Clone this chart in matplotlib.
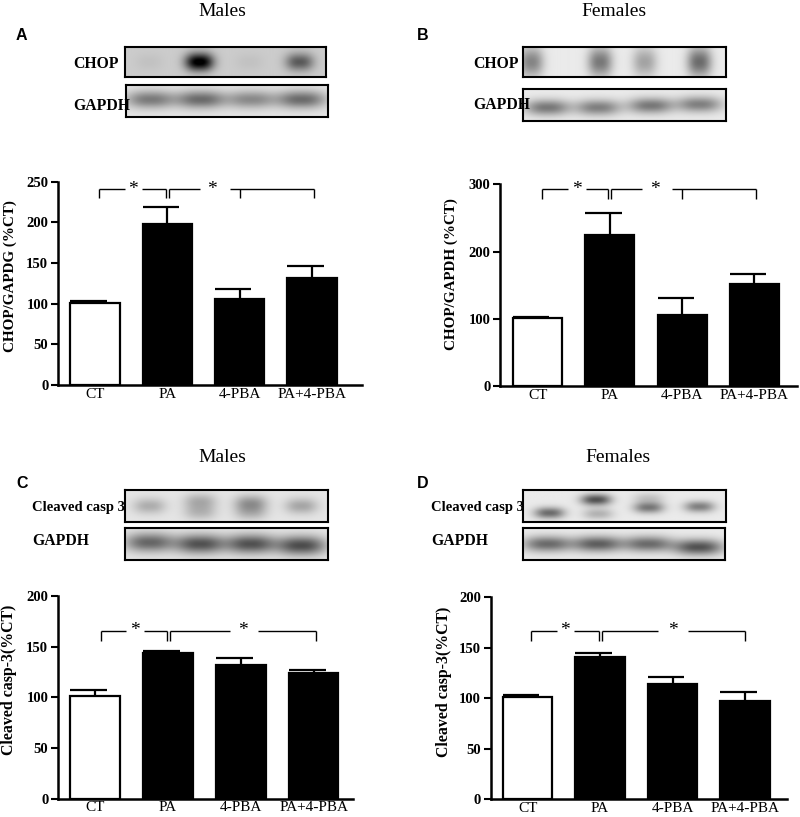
import numpy as np
import matplotlib
matplotlib.use('Agg')
import matplotlib.pyplot as plt

W, H = 800, 817
fig = plt.figure(figsize=(8, 8.17), dpi=100)

SERIF = ['Liberation Serif', 'DejaVu Serif']
SANS = ['Liberation Sans', 'DejaVu Sans']

# ---------------- data ----------------
categories = ['CT', 'PA', '4-PBA', 'PA+4-PBA']

chop_males = [101, 198.5, 105.5, 132]
chop_males_sem = [2.5, 20, 12.5, 14.5]
chop_females = [100.5, 225, 105, 152]
chop_females_sem = [2.5, 33, 26, 14]
casp_males = [101.6, 143.8, 132.2, 124.3]
casp_males_sem = [5.3, 2.3, 6.6, 2.3]
casp_females = [101.3, 140.6, 114.5, 97.7]
casp_females_sem = [1.5, 4.0, 6.3, 8.6]

yticks_chop_males = [0, 50, 100, 150, 200, 250]
yticks_chop_females = [0, 100, 200, 300]
yticks_casp = [0, 50, 100, 150, 200]

# western blot band darkness (per band: lane x, y in box, darkness)
chopA_x = [0.12, 0.37, 0.62, 0.87]; chopA_y = [0.5, 0.5, 0.5, 0.5]; chopA_d = [0.04, 0.85, 0.04, 0.45]
gapA_x = [0.12, 0.37, 0.62, 0.87]; gapA_y = [0.45, 0.45, 0.45, 0.45]; gapA_d = [0.42, 0.48, 0.36, 0.48]
chopB_x = [0.04, 0.38, 0.6, 0.87]; chopB_y = [0.5, 0.5, 0.5, 0.5]; chopB_d = [0.4, 0.45, 0.28, 0.5]
gapB_x = [0.12, 0.37, 0.63, 0.87]; gapB_y = [0.58, 0.58, 0.52, 0.48]; gapB_d = [0.45, 0.42, 0.45, 0.42]
caspC_x = [0.12, 0.37, 0.62, 0.87, 0.37, 0.62]; caspC_y = [0.5, 0.35, 0.4, 0.5, 0.7, 0.7]; caspC_d = [0.22, 0.22, 0.3, 0.25, 0.18, 0.2]
gapC_x = [0.12, 0.37, 0.62, 0.87]; gapC_y = [0.45, 0.5, 0.5, 0.55]; gapC_d = [0.5, 0.58, 0.58, 0.6]
caspD_x = [0.13, 0.36, 0.37, 0.62, 0.62, 0.87]; caspD_y = [0.72, 0.3, 0.75, 0.55, 0.25, 0.52]; caspD_d = [0.5, 0.6, 0.22, 0.45, 0.15, 0.42]
gapD_x = [0.12, 0.37, 0.62, 0.87]; gapD_y = [0.5, 0.5, 0.5, 0.6]; gapD_d = [0.5, 0.55, 0.5, 0.6]


def ax_px(l, t, r, b):
    return fig.add_axes([l / W, 1 - b / H, (r - l) / W, (b - t) / H])


def ftext(x, y, s, **kw):
    fig.text(x / W, 1 - y / H, s, **kw)


def blot(rect, bx, by, bd, sx, sy, bg):
    ax = ax_px(*rect)
    ny, nx = 60, 400
    X, Y = np.meshgrid(np.linspace(0, 1, nx), np.linspace(0, 1, ny))
    img = np.full((ny, nx), bg)
    for lx, ly, d in zip(bx, by, bd):
        img -= d * np.exp(-np.abs((X - lx) / sx) ** 2.5 - ((Y - ly) / sy) ** 2)
    ax.imshow(np.clip(img, 0, 1), cmap='gray', vmin=0, vmax=1, aspect='auto',
              extent=(0, 1, 1, 0), interpolation='bilinear')
    ax.set_xticks([]); ax.set_yticks([])
    for s in ax.spines.values():
        s.set_linewidth(1.5)
    return ax


def bar_panel(rect, vals, sem, yticks, xlim, brackets):
    ax = ax_px(*rect)
    x = np.arange(len(categories))
    w = 0.68
    colors = ['white', 'black', 'black', 'black']
    ax.bar(x, vals, width=w, color=colors, edgecolor='black', linewidth=1.6, zorder=2)
    for xi, v, e in zip(x, vals, sem):
        ax.plot([xi, xi], [v, v + e], color='black', lw=1.6, zorder=3, solid_capstyle='butt')
        ax.plot([xi - w / 2, xi + 0.24 * w], [v + e, v + e], color='black', lw=1.6, zorder=3,
                solid_capstyle='butt')
    ax.set_xlim(*xlim)
    ax.set_ylim(yticks[0], yticks[-1])
    ax.set_yticks(yticks)
    ax.set_yticklabels([str(t) for t in yticks], fontfamily=SERIF, fontweight='bold', fontsize=10.5)
    ax.set_xticks(x)
    ax.set_xticklabels(categories, fontfamily=SERIF, fontsize=11)
    ax.tick_params(axis='x', length=0, pad=2)
    ax.tick_params(axis='y', length=5, width=1.5, pad=2, direction='out')
    for s in ['top', 'right']:
        ax.spines[s].set_visible(False)
    for s in ['left', 'bottom']:
        ax.spines[s].set_linewidth(1.8)
    for (xl, xr, y, drop, sx, gl, gr, mids) in brackets:
        kw = dict(color='black', lw=1.0, clip_on=False, solid_capstyle='butt')
        ax.plot([xl, gl], [y, y], **kw)
        ax.plot([gr, xr], [y, y], **kw)
        ax.plot([xl, xl], [y, y - drop], **kw)
        ax.plot([xr, xr], [y, y - drop], **kw)
        for m in mids:
            ax.plot([m, m], [y, y - drop], **kw)
        ax.text(sx, y, '*', ha='center', va='center', fontsize=14, fontfamily=SERIF,
                transform=ax.transData)
    return ax


TITLE_FS = 14
LET_FS = 11.5
BL_FS = 11.3

# ---------------- panel A ----------------
ftext(222, 12, 'Males', ha='center', va='center', fontsize=TITLE_FS, fontfamily=SERIF)
ftext(16, 36, 'A', ha='left', va='center', fontsize=LET_FS, fontweight='bold', fontfamily=SANS)
blot((125, 47, 326, 77), chopA_x, chopA_y, chopA_d, 0.07, 0.3, 0.8)
blot((126, 85, 328, 117), gapA_x, gapA_y, gapA_d, 0.12, 0.28, 0.9)
ftext(73, 64, 'CHOP', ha='left', va='center', fontsize=BL_FS, fontweight='bold', fontfamily=SERIF)
ftext(73, 106, 'GAPDH', ha='left', va='center', fontsize=BL_FS, fontweight='bold', fontfamily=SERIF)
bar_panel((58, 181.7, 362, 385), chop_males, chop_males_sem, yticks_chop_males, (-0.51, 3.69),
          [(0.05, 0.98, 240.6, 11, 0.53, 0.41, 0.65, []),
           (1.03, 3.03, 240.6, 11, 1.62, 1.45, 1.87, [2.0])])
ftext(10, 276, 'CHOP/GAPDG (%CT)', ha='center', va='center', rotation=90, fontsize=10.9,
      fontweight='bold', fontfamily=SERIF)

# ---------------- panel B ----------------
ftext(614, 12, 'Females', ha='center', va='center', fontsize=TITLE_FS, fontfamily=SERIF)
ftext(417, 36, 'B', ha='left', va='center', fontsize=LET_FS, fontweight='bold', fontfamily=SANS)
blot((523, 47, 726, 77), chopB_x, chopB_y, chopB_d, 0.06, 0.5, 0.92)
blot((523, 89, 726, 121), gapB_x, gapB_y, gapB_d, 0.11, 0.25, 0.92)
ftext(473, 64, 'CHOP', ha='left', va='center', fontsize=BL_FS, fontweight='bold', fontfamily=SERIF)
ftext(473, 105, 'GAPDH', ha='left', va='center', fontsize=BL_FS, fontweight='bold', fontfamily=SERIF)
bar_panel((500, 184.3, 797, 386), chop_females, chop_females_sem, yticks_chop_females, (-0.52, 3.59),
          [(0.06, 0.98, 292.6, 14.6, 0.55, 0.42, 0.67, []),
           (1.02, 3.02, 292.6, 14.6, 1.63, 1.44, 1.86, [2.0])])
ftext(451, 274, 'CHOP/GAPDH (%CT)', ha='center', va='center', rotation=90, fontsize=10.9,
      fontweight='bold', fontfamily=SERIF)

# ---------------- panel C ----------------
ftext(222, 458, 'Males', ha='center', va='center', fontsize=TITLE_FS, fontfamily=SERIF)
ftext(16, 484, 'C', ha='left', va='center', fontsize=LET_FS, fontweight='bold', fontfamily=SANS)
blot((125, 490, 328, 522), caspC_x, caspC_y, caspC_d, 0.08, 0.25, 0.9)
blot((125, 528, 328, 560), gapC_x, gapC_y, gapC_d, 0.12, 0.3, 0.9)
ftext(32, 507, 'Cleaved casp 3', ha='left', va='center', fontsize=10.5, fontweight='bold', fontfamily=SERIF)
ftext(32, 541, 'GAPDH', ha='left', va='center', fontsize=BL_FS, fontweight='bold', fontfamily=SERIF)
bar_panel((58, 596, 353, 798.7), casp_males, casp_males_sem, yticks_casp, (-0.51, 3.54),
          [(0.08, 0.98, 165.8, 10, 0.55, 0.42, 0.67, []),
           (1.03, 3.03, 165.8, 10, 2.03, 1.85, 2.24, [])])
ftext(9, 680, 'Cleaved casp-3(%CT)', ha='center', va='center', rotation=90, fontsize=11.4,
      fontweight='bold', fontfamily=SERIF)

# ---------------- panel D ----------------
ftext(618, 458, 'Females', ha='center', va='center', fontsize=TITLE_FS, fontfamily=SERIF)
ftext(417, 484, 'D', ha='left', va='center', fontsize=LET_FS, fontweight='bold', fontfamily=SANS)
blot((523, 490, 726, 522), caspD_x, caspD_y, caspD_d, 0.075, 0.18, 0.92)
blot((523, 528, 725, 560), gapD_x, gapD_y, gapD_d, 0.12, 0.25, 0.92)
ftext(431, 507, 'Cleaved casp 3', ha='left', va='center', fontsize=10.5, fontweight='bold', fontfamily=SERIF)
ftext(431, 541, 'GAPDH', ha='left', va='center', fontsize=BL_FS, fontweight='bold', fontfamily=SERIF)
bar_panel((490.7, 597.3, 787, 799.3), casp_females, casp_females_sem, yticks_casp, (-0.51, 3.58),
          [(0.05, 0.99, 166.7, 9.5, 0.52, 0.4, 0.64, []),
           (1.03, 3.0, 166.7, 9.5, 2.0, 1.8, 2.21, [])])
ftext(444, 682, 'Cleaved casp-3(%CT)', ha='center', va='center', rotation=90, fontsize=11.4,
      fontweight='bold', fontfamily=SERIF)

fig.savefig('out.png', dpi=100)
